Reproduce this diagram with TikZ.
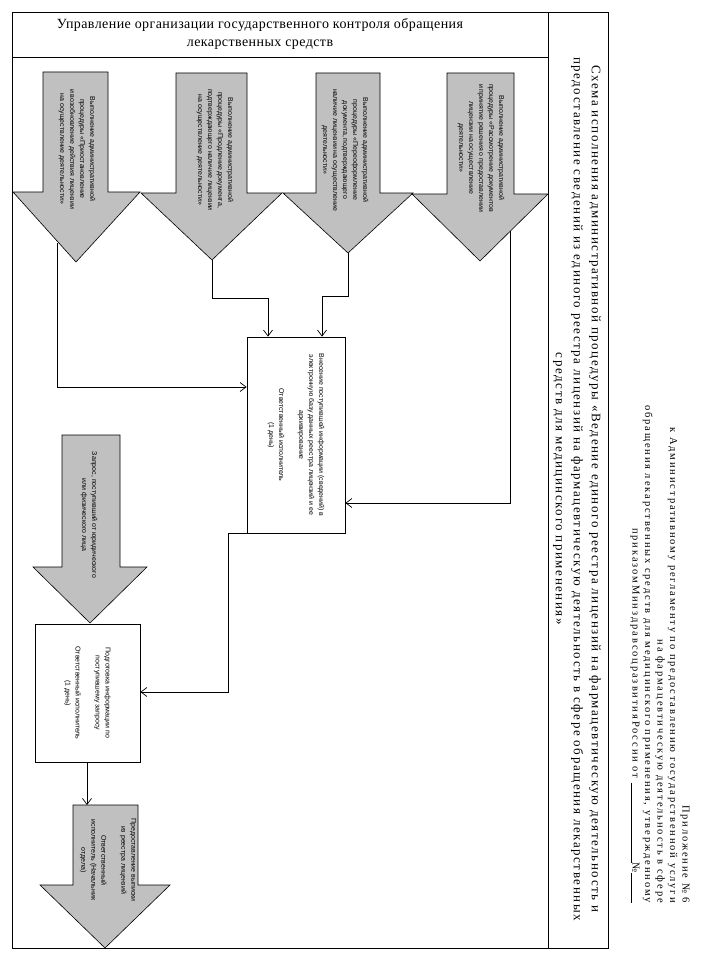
\documentclass[tikz,border=0pt]{standalone}
\usepackage{fontspec}
\setmainfont{Liberation Serif}
\newfontfamily\arialf{Liberation Sans}
\newfontfamily\titlef[LetterSpace=12]{Liberation Serif}
\newfontfamily\headf[LetterSpace=3]{Liberation Serif}
\newfontfamily\appf[LetterSpace=18]{Liberation Serif}
\usetikzlibrary{arrows.meta,calc}
\definecolor{arrowgray}{RGB}{192,192,192}
\begin{document}
\begin{tikzpicture}[x=1pt,y=-1pt,
  frameline/.style={draw=black,line width=0.8pt},
  blockarrow/.style={fill=arrowgray,draw=black,line width=0.6pt,line join=miter},
  boxstyle/.style={draw=black,line width=0.8pt,fill=white,inner sep=0pt},
  smalltext/.style={font=\arialf\fontsize{7}{10}\selectfont,align=center,rotate=-90,inner sep=0pt},
  conn/.style={draw=black,line width=0.7pt,-{Straight Barb[length=6pt,width=9pt]}},
  plainline/.style={draw=black,line width=0.7pt}]
\useasboundingbox (0,0) rectangle (720,960);
\fill[white] (0,0) rectangle (720,960);

% block arrows
\path[blockarrow] (43,72) -- (108,72) -- (108,192) -- (140,192) -- (76,262) -- (13,192) -- (43,192) -- cycle;
\path[blockarrow] (176,73) -- (247,73) -- (247,193) -- (282,193) -- (212,260) -- (141,193) -- (176,193) -- cycle;
\path[blockarrow] (316,73) -- (380,73) -- (380,193) -- (413,193) -- (348,253) -- (283,193) -- (316,193) -- cycle;
\path[blockarrow] (447,73) -- (514,73) -- (514,194) -- (548,194) -- (480,261) -- (412,194) -- (447,194) -- cycle;
\path[blockarrow] (62,435) -- (120,435) -- (120,567) -- (147,567) -- (90,623) -- (33,567) -- (62,567) -- cycle;
\path[blockarrow] (73,805) -- (138,805) -- (138,885) -- (170,885) -- (105,948) -- (40,885) -- (73,885) -- cycle;

\coordinate (a1e) at (57,243);
\coordinate (a2tip) at (212,260);
\coordinate (a3tip) at (348,253);
\coordinate (a4e) at (510,231);
\coordinate (btop) at (87,805);

% texts in arrows
\node[smalltext] (a1) at (77,149) {Выполнение административной\\процедуры «Приостановление\\и возобновление действия лицензии\\на осуществление деятельности»};
\node[smalltext] (a2) at (215,150) {Выполнение административной\\процедуры «Продление документа,\\подтверждающего наличие лицензии\\на осуществление деятельности»};
\node[smalltext] (a3) at (345,150) {Выполнение административной\\процедуры «Переоформление\\документа, подтверждающего\\наличие лицензии на осуществление\\деятельности»};
\node[smalltext] (a4) at (481,148) {Выполнение административной\\процедуры «Рассмотрение документов\\и принятие решения о предоставлении\\лицензии на осуществление\\деятельности»};
\node[smalltext] (req) at (89,515) {Запрос, поступивший от юридического\\или физического лица};
\node[smalltext] (outt) at (108,860) {Предоставление выписки\\из реестра лицензий\\[10pt]Ответственный\\исполнитель (Начальник\\отдела)};

% boxes
\node[boxstyle,minimum width=98pt,minimum height=196pt] (cb) at (296,435) {};
\node[boxstyle,minimum width=105pt,minimum height=138pt] (qb) at (87.5,693) {};
\node[smalltext] (cbt) at (cb.center) {Внесение поступившей информации (сведений) в\\электронную базу данных реестра лицензий и ее\\архивирование\\[10pt]Ответственный исполнитель\\(1 день)};
\node[smalltext] (qbt) at (qb.center) {Подготовка информации по\\поступившему запросу\\[10pt]Ответственный исполнитель\\(1 день)};

% connectors
\coordinate (j1) at (57,387);
\draw[conn] (a1e) -- (j1) -- (j1 -| cb.west);
\coordinate (j2) at (268,298);
\draw[conn] (a2tip) |- (j2) -- (j2 |- cb.north);
\coordinate (j3) at (322,296);
\draw[conn] (a3tip) |- (j3) -- (j3 |- cb.north);
\coordinate (j4) at (510,503);
\draw[conn] (a4e) -- (j4) -- (j4 -| cb.east);
\coordinate (j5) at (228,692);
\draw[conn] (cb.south west) -| (j5) -- (j5 -| qb.east);
\draw[conn] (qb.south -| btop) -- (btop);

% frame
\draw[frameline] (12,12) rectangle (608,948);
\draw[frameline] (548,12) -- (548,948);
\draw[frameline] (12,57) -- (548,57);

\node[align=center,font=\headf\fontsize{14}{18.5}\selectfont,inner sep=0pt] (head) at (260,34) {Управление организации государственного контроля обращения\\лекарственных средств};

\node[rotate=-90,align=center,font=\titlef\fontsize{13}{18}\selectfont,inner sep=0pt] (title) at (577,489) {Схема исполнения административной процедуры «Ведение единого реестра лицензий на фармацевтическую деятельность и\\предоставление сведений из единого реестра лицензий на фармацевтическую деятельность в сфере обращения лекарственных\\средств для медицинского применения»};

\node[rotate=-90,align=right,anchor=east,font=\appf\fontsize{10.5}{12.5}\selectfont,inner sep=0pt] (app) at (660,903) {Приложение № 6\\к Административному регламенту по предоставлению государственной услуги\\на фармацевтическую деятельность в сфере\\обращения лекарственных средств для медицинского применения, утвержденному\\приказомМинздравсоцразвитияРоссии от \rule[-2pt]{80pt}{0.5pt}№\rule[-2pt]{30pt}{0.5pt}};
\end{tikzpicture}
\end{document}
